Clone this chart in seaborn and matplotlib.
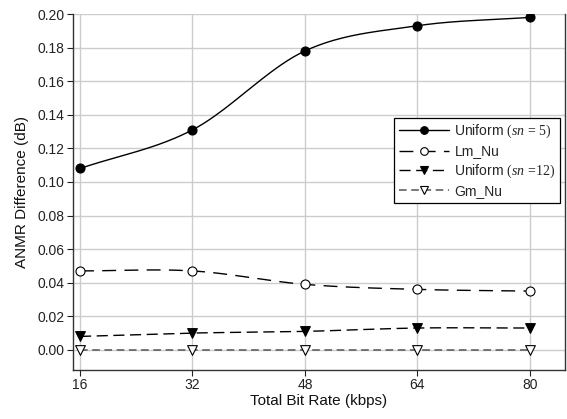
import numpy as np
import pandas as pd
import matplotlib
matplotlib.use("Agg")
import matplotlib.pyplot as plt
from matplotlib.lines import Line2D
import seaborn as sns

# Data
bit_rates = [16, 32, 48, 64, 80]
uniform_sn5 = [0.108, 0.131, 0.178, 0.193, 0.198]
lm_nu = [0.047, 0.047, 0.039, 0.036, 0.035]
uniform_sn12 = [0.008, 0.010, 0.011, 0.013, 0.013]
gm_nu = [0.000, 0.000, 0.000, 0.000, 0.000]
series_names = ["Uniform $(sn\\,=\\,5)$", "Lm_Nu", "Uniform $(sn\\,=\\!12)$", "Gm_Nu"]
y_ticks = [0.00, 0.02, 0.04, 0.06, 0.08, 0.10, 0.12, 0.14, 0.16, 0.18, 0.20]


def smooth_curve(x, y, n=40, tension=0.5):
    """Cardinal spline through the given points (spreadsheet-style smoothed line)."""
    x = np.asarray(x, float)
    y = np.asarray(y, float)
    px = np.concatenate([[2 * x[0] - x[1]], x, [2 * x[-1] - x[-2]]])
    py = np.concatenate([[2 * y[0] - y[1]], y, [2 * y[-1] - y[-2]]])
    xs, ys = [], []
    t = np.linspace(0, 1, n)
    for i in range(1, len(px) - 2):
        m0x = tension * (px[i + 1] - px[i - 1])
        m1x = tension * (px[i + 2] - px[i])
        m0y = tension * (py[i + 1] - py[i - 1])
        m1y = tension * (py[i + 2] - py[i])
        h00 = 2 * t**3 - 3 * t**2 + 1
        h10 = t**3 - 2 * t**2 + t
        h01 = -2 * t**3 + 3 * t**2
        h11 = t**3 - t**2
        xs.append(h00 * px[i] + h10 * m0x + h01 * px[i + 1] + h11 * m1x)
        ys.append(h00 * py[i] + h10 * m0y + h01 * py[i + 1] + h11 * m1y)
    return np.concatenate(xs), np.concatenate(ys)


sns.set_theme(style="whitegrid", rc={
    "xtick.bottom": True, "ytick.left": True,
    "xtick.major.size": 4, "ytick.major.size": 4,
    "xtick.major.width": 0.8, "ytick.major.width": 0.8,
    "xtick.color": "#222222", "ytick.color": "#222222",
})
plt.rcParams["font.family"] = ["Liberation Sans", "DejaVu Sans"]
plt.rcParams["mathtext.fontset"] = "custom"
plt.rcParams["mathtext.rm"] = "Liberation Serif"
plt.rcParams["mathtext.it"] = "Liberation Serif:italic"

fig = plt.figure(figsize=(5.67, 4.19), dpi=100)
ax = fig.add_axes([73 / 567, 49 / 419, 492 / 567, 356 / 419])

styles = [
    dict(color="black", dashes=None, marker="o", mfc="black", ms=6.5, lw=1.0),
    dict(color="black", dashes=(10, 6), marker="o", mfc="white", ms=6.5, lw=1.0),
    dict(color="black", dashes=(8, 4), marker="v", mfc="black", ms=7, lw=1.0),
    dict(color="#555555", dashes=(5, 3), marker="v", mfc="white", ms=7, lw=1.1),
]
all_series = [uniform_sn5, lm_nu, uniform_sn12, gm_nu]

handles = []
for name, vals, st in zip(series_names, all_series, styles):
    sx, sy = smooth_curve(bit_rates, vals)
    df_line = pd.DataFrame({"x": sx, "y": sy})
    sns.lineplot(data=df_line, x="x", y="y", ax=ax, color=st["color"], lw=st["lw"],
                 sort=False, estimator=None, zorder=3)
    line = ax.lines[-1]
    if st["dashes"] is not None:
        line.set_dashes(st["dashes"])
    df_pts = pd.DataFrame({"x": bit_rates, "y": vals})
    sns.scatterplot(data=df_pts, x="x", y="y", ax=ax, marker=st["marker"],
                    s=st["ms"] ** 2, facecolor=st["mfc"], edgecolor="black",
                    linewidth=0.8, zorder=4)
    h = Line2D([], [], color=st["color"], lw=st["lw"], marker=st["marker"],
               markerfacecolor=st["mfc"], markeredgecolor="black", markersize=5.5,
               markeredgewidth=0.8)
    if st["dashes"] is not None:
        h.set_dashes(st["dashes"])
    handles.append(h)

ax.set_xlim(15, 85)
ax.set_ylim(-0.012, 0.20)
ax.set_xticks(bit_rates)
ax.set_yticks(y_ticks)
ax.set_yticklabels([f"{v:.2f}" for v in y_ticks])
ax.set_xlabel("Total Bit Rate (kbps)", fontsize=11, labelpad=1, color="#111111")
ax.set_ylabel("ANMR Difference (dB)", fontsize=11, labelpad=6, color="#111111")
ax.tick_params(axis="both", labelsize=10, direction="out", pad=2,
               labelcolor="#222222")

ax.grid(True, color="#cccccc", lw=1.0)
ax.set_axisbelow(True)
for side in ["left", "bottom", "right"]:
    ax.spines[side].set_visible(True)
    ax.spines[side].set_color("#333333")
    ax.spines[side].set_linewidth(1.0)
ax.spines["top"].set_visible(False)

leg = ax.legend(handles, series_names, loc="upper left",
                bbox_to_anchor=((394 - 73) / 492, (370 - 118) / 356),
                fontsize=10, frameon=True, fancybox=False, handlelength=3.6,
                handletextpad=0.4, borderpad=0.35, labelspacing=0.3,
                borderaxespad=0)
leg.get_frame().set_edgecolor("black")
leg.get_frame().set_linewidth(0.9)
leg.get_frame().set_alpha(1)

fig.savefig("out.png", dpi=100)
